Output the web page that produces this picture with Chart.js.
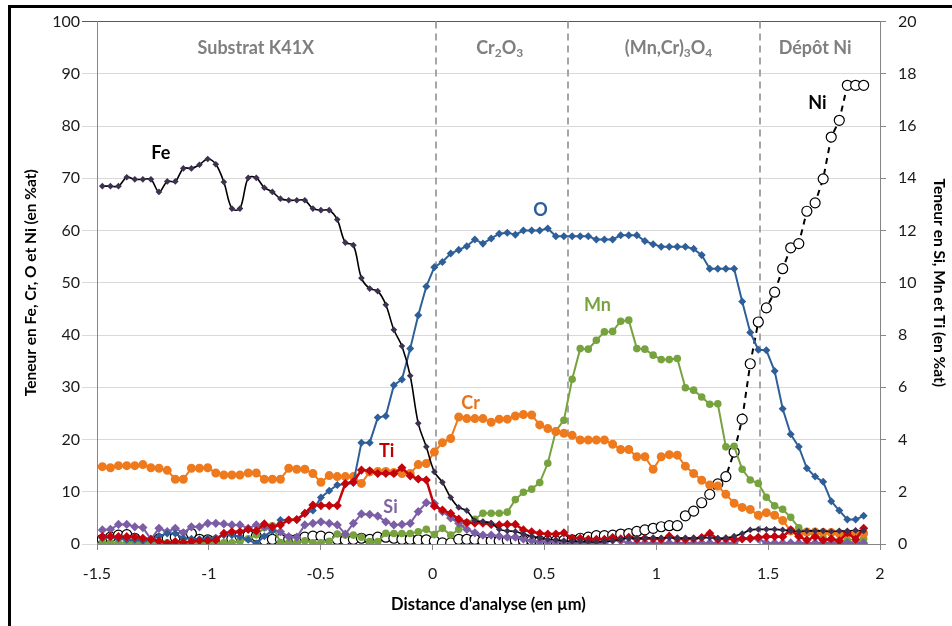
<!DOCTYPE html>
<html>
<head>
<meta charset="utf-8">
<script src="https://cdn.jsdelivr.net/npm/chart.js@4.4.0/dist/chart.umd.min.js"></script>
<style>
html, body { margin: 0; padding: 0; background: #fff; }
#wrap { width: 952px; height: 626px; }
</style>
</head>
<body>
<div id="wrap"><canvas id="mycanvas" width="952" height="626"></canvas></div>
<script>
// profile abscissa (µm)
var distance = [-1.476, -1.440, -1.404, -1.367, -1.331, -1.295, -1.259, -1.223, -1.186, -1.150,
    -1.114, -1.078, -1.042, -1.005, -0.969, -0.933, -0.897, -0.861, -0.824, -0.788,
    -0.752, -0.716, -0.680, -0.643, -0.607, -0.571, -0.535, -0.499, -0.462, -0.426,
    -0.390, -0.354, -0.318, -0.281, -0.245, -0.209, -0.173, -0.137, -0.100, -0.064,
    -0.028, 0.008, 0.044, 0.081, 0.117, 0.153, 0.189, 0.225, 0.262, 0.298,
    0.334, 0.370, 0.406, 0.443, 0.479, 0.515, 0.551, 0.587, 0.624, 0.660,
    0.696, 0.732, 0.768, 0.805, 0.841, 0.877, 0.913, 0.949, 0.986, 1.022,
    1.058, 1.094, 1.130, 1.167, 1.203, 1.239, 1.275, 1.311, 1.348, 1.384,
    1.420, 1.456, 1.492, 1.529, 1.565, 1.601, 1.637, 1.673, 1.710, 1.746,
    1.782, 1.818, 1.854, 1.891, 1.927];

// left axis (%at)
var fe = [68.5, 68.5, 68.5, 70.2, 69.8, 69.8, 69.8, 67.4, 69.4, 69.4,
    71.9, 71.9, 72.6, 73.7, 72.7, 69.3, 64.2, 64.2, 70.1, 70.1,
    68.2, 67.4, 66.1, 65.8, 65.8, 65.8, 64.2, 63.9, 63.9, 62.1,
    57.7, 57.2, 50.9, 48.9, 48.4, 45.8, 41.0, 37.9, 32.2, 23.1,
    18.6, 13.8, 11.8, 8.9, 7.0, 6.4, 4.5, 4.3, 4.0, 2.8,
    2.5, 2.4, 1.9, 1.5, 1.1, 0.9, 0.8, 0.6, 0.5, 0.5,
    0.4, 0.4, 0.5, 0.6, 0.9, 1.1, 1.1, 1.2, 1.2, 1.2,
    1.2, 1.1, 1.2, 1.1, 1.2, 1.2, 1.1, 1.2, 1.5, 2.0,
    2.7, 2.8, 2.8, 2.8, 2.7, 2.5, 2.4, 2.5, 2.5, 2.5,
    2.4, 2.5, 2.5, 2.6, 2.5];
var oxy = [1.1, 1.3, 1.0, 0.8, 0.8, 0.6, 0.7, 1.5, 2.0, 2.0,
    1.1, 1.0, 0.9, 1.1, 1.2, 1.7, 1.7, 1.4, 0.8, 0.1,
    1.5, 2.5, 4.6, 4.6, 4.6, 5.9, 6.4, 8.9, 10.2, 11.3,
    11.5, 11.7, 19.4, 19.4, 24.2, 24.5, 30.4, 31.5, 37.4, 43.8,
    49.3, 53.0, 54.0, 55.6, 56.3, 57.0, 58.3, 57.5, 58.5, 59.4,
    59.6, 59.2, 60.0, 60.0, 60.0, 60.4, 58.9, 58.9, 58.9, 58.9,
    58.9, 58.3, 58.3, 58.3, 59.1, 59.1, 59.1, 58.0, 57.4, 56.9,
    56.9, 56.9, 56.9, 56.5, 55.3, 52.7, 52.7, 52.7, 52.7, 46.4,
    40.5, 37.2, 37.1, 33.1, 25.9, 21.0, 18.6, 14.5, 12.9, 11.9,
    8.2, 6.4, 4.7, 4.7, 5.4];
var cr = [14.8, 14.6, 15.0, 15.0, 15.0, 15.2, 14.6, 14.5, 14.1, 12.4,
    12.4, 14.5, 14.5, 14.6, 13.6, 13.2, 13.2, 13.2, 13.6, 13.6,
    12.4, 12.4, 12.4, 14.5, 14.3, 14.3, 13.5, 11.8, 13.1, 12.9,
    12.9, 12.9, 11.6, 13.8, 13.9, 13.9, 13.7, 13.5, 13.5, 15.2,
    15.4, 17.6, 19.4, 20.2, 24.3, 24.0, 24.0, 24.0, 23.3, 23.9,
    23.9, 24.5, 24.8, 24.7, 22.8, 22.1, 21.5, 21.2, 20.8, 19.9,
    19.9, 19.9, 19.9, 19.1, 18.1, 18.1, 16.7, 16.7, 14.3, 16.7,
    17.1, 17.0, 14.9, 13.5, 12.2, 11.3, 11.1, 9.5, 7.8, 7.0,
    6.6, 5.5, 6.0, 5.5, 4.5, 2.5, 2.0, 2.3, 2.3, 2.2,
    2.2, 2.0, 2.0, 1.7, 2.0];
var ni = [0.9, 1.3, 1.7, 1.8, 1.1, 0.3, 0.2, 1.0, 1.1, 1.3,
    1.7, 2.0, 0.9, 0.8, 0.6, 0.9, 1.0, 1.5, 1.7, 1.5,
    0.8, 0.9, 0.9, 0.9, 0.9, 1.3, 1.5, 1.5, 1.3, 0.9,
    0.8, 0.9, 1.1, 0.9, 1.3, 1.3, 1.1, 0.9, 0.9, 0.8,
    0.8, 0.6, 0.2, 0.2, 0.9, 0.9, 0.9, 0.6, 0.6, 0.6,
    0.7, 0.7, 0.7, 0.7, 0.6, 0.6, 0.6, 0.7, 0.8, 1.1,
    1.3, 1.6, 1.6, 1.7, 1.9, 2.0, 2.4, 2.7, 3.0, 3.3,
    3.5, 3.5, 5.4, 6.3, 7.9, 9.5, 11.5, 12.9, 17.6, 23.9,
    34.5, 42.5, 45.2, 48.2, 52.7, 56.7, 57.5, 63.7, 65.3, 69.9,
    77.9, 81.1, 87.8, 87.8, 87.8];

// right axis (%at)
var mn = [0.05, 0.05, 0.05, 0.05, 0.05, 0.05, 0.05, 0.05, 0.05, 0.05,
    0.05, 0.05, 0.05, 0.05, 0.05, 0.05, 0.05, 0.1, 0.2, 0.35,
    0.62, 0.7, 0.06, 0.05, 0.05, 0.12, 0.05, 0.05, 0.1, 0.38,
    0.34, 0.34, 0.26, 0.09, 0.09, 0.41, 0.4, 0.4, 0.4, 0.47,
    0.56, 0.36, 0.6, 0.34, 0.56, 0.82, 0.95, 1.18, 1.18, 1.18,
    1.22, 1.7, 1.98, 2.1, 2.35, 3.09, 4.33, 4.74, 6.31, 7.48,
    7.46, 7.8, 8.12, 8.14, 8.53, 8.57, 7.48, 7.46, 7.23, 7.06,
    7.06, 7.1, 5.98, 5.89, 5.63, 5.35, 5.37, 3.72, 3.74, 2.86,
    2.45, 2.32, 1.79, 1.46, 1.33, 1.02, 0.62, 0.43, 0.34, 0.22,
    0.14, 0.1, 0.14, 0.04, 0.2];
var ti = [0.28, 0.29, 0.28, 0.28, 0.27, 0.22, 0.18, 0.11, 0.03, 0.09,
    0.06, 0.09, 0.13, 0.13, 0.15, 0.41, 0.47, 0.47, 0.56, 0.5,
    0.77, 0.66, 0.73, 0.92, 0.94, 1.17, 1.49, 1.47, 1.47, 1.47,
    2.31, 2.38, 2.83, 2.8, 2.7, 2.7, 2.7, 2.92, 2.61, 2.49,
    2.45, 1.45, 1.3, 1.17, 0.95, 0.82, 0.8, 0.8, 0.75, 0.73,
    0.75, 0.75, 0.54, 0.47, 0.41, 0.38, 0.38, 0.43, 0.22, 0.22,
    0.18, 0.18, 0.18, 0.25, 0.2, 0.26, 0.18, 0.22, 0.2, 0.18,
    0.3, 0.2, 0.18, 0.2, 0.25, 0.41, 0.18, 0.2, 0.18, 0.2,
    0.22, 0.26, 0.28, 0.29, 0.28, 0.54, 0.29, 0.15, 0.28, 0.14,
    0.2, 0.12, 0.43, 0.18, 0.6];
var si = [0.54, 0.56, 0.75, 0.75, 0.66, 0.63, 0.18, 0.6, 0.47, 0.6,
    0.43, 0.66, 0.66, 0.79, 0.79, 0.77, 0.73, 0.73, 0.6, 0.73,
    0.66, 0.54, 0.47, 0.28, 0.26, 0.73, 0.79, 0.85, 0.79, 0.73,
    0.38, 0.79, 1.15, 1.13, 1.07, 0.85, 0.73, 0.75, 0.79, 1.24,
    1.58, 1.55, 1.24, 1.0, 0.79, 0.56, 0.43, 0.34, 0.34, 0.3,
    0.26, 0.26, 0.19, 0.13, 0.09, 0.09, 0.09, 0.08, 0.05, 0.04,
    0.04, 0.04, 0.04, 0.15, 0.12, 0.04, 0.04, 0.04, 0.04, 0.04,
    0.04, 0.04, 0.04, 0.04, 0.04, 0.04, 0.04, 0.04, 0.04, 0.2,
    0.2, 0.2, 0.04, 0.04, 0.04, 0.04, 0.04, 0.04, 0.04, 0.04,
    0.04, 0.04, 0.04, 0.04, 0.04];

var xTicks = [-1.5, -1, -0.5, 0, 0.5, 1, 1.5, 2];

// layer limits and names
var layerBounds = [0.015, 0.605, 1.465];
var layerNames = [
    [['Substrat K41X', 0]],
    [['Cr', 0], ['2', 1], ['O', 0], ['3', 1]],
    [['(Mn,Cr)', 0], ['3', 1], ['O', 0], ['4', 1]],
    [['Dépôt Ni', 0]]
];
var layerCenters = [-0.79, 0.30, 1.055, 1.71];

var FONT = 'Lato, "Open Sans", sans-serif';

function pts(ys) {
    return ys.map(function (v, i) {
        return {x: distance[i], y: v};
    });
}

function drawRich(ctx, parts, cx, cy) {
    var w = 0;
    parts.forEach(function (p) {
        ctx.font = 'bold ' + (p[1] ? 12 : 18) + 'px ' + FONT;
        w += ctx.measureText(p[0]).width;
    });
    var x = cx - w / 2;
    parts.forEach(function (p) {
        ctx.font = 'bold ' + (p[1] ? 12 : 18) + 'px ' + FONT;
        ctx.fillText(p[0], x, cy + (p[1] ? 5 : 0));
        x += ctx.measureText(p[0]).width;
    });
}

var overlay = {
    id: 'overlay',
    beforeDatasetsDraw: function (chart) {
        var ctx = chart.ctx, sx = chart.scales.x, a = chart.chartArea;
        ctx.save();
        ctx.strokeStyle = '#a6a6a6';
        ctx.lineWidth = 2;
        ctx.setLineDash([7, 5]);
        layerBounds.forEach(function (b) {
            var px = Math.round(sx.getPixelForValue(b));
            ctx.beginPath();
            ctx.moveTo(px, a.top);
            ctx.lineTo(px, a.bottom);
            ctx.stroke();
        });
        ctx.restore();
    },
    afterDraw: function (chart) {
        var ctx = chart.ctx, sx = chart.scales.x, sy = chart.scales.y;
        ctx.save();
        ctx.textBaseline = 'middle';
        ctx.textAlign = 'left';
        ctx.fillStyle = '#7f7f7f';
        layerNames.forEach(function (parts, i) {
            drawRich(ctx, parts, sx.getPixelForValue(layerCenters[i]), sy.getPixelForValue(95));
        });
        // element names next to the curves
        ctx.textAlign = 'center';
        ctx.font = 'bold 18px ' + FONT;
        chart.data.datasets.forEach(function (ds) {
            ctx.fillStyle = ds.tagColor;
            ctx.fillText(ds.label, sx.getPixelForValue(ds.tagX), sy.getPixelForValue(ds.tagY));
        });
        // outer frame
        ctx.fillStyle = '#000';
        ctx.fillRect(8, 5, 3, 621);
        ctx.fillRect(8, 5, 944, 3);
        ctx.restore();
    }
};

var ctx = document.getElementById('mycanvas').getContext('2d');

var myChart = new Chart(ctx, {
    type: 'line',
    data: {
        datasets: [
            {label: 'Fe', data: pts(fe), yAxisID: 'y', borderColor: '#000', borderWidth: 1.6, tension: 0.35,
                pointStyle: 'rectRot', pointRadius: 2.2, pointBackgroundColor: '#3f3151', pointBorderColor: '#3f3151',
                tagColor: '#000', tagX: -1.215, tagY: 74.8},
            {label: 'Ti', data: pts(ti), yAxisID: 'y1', borderColor: '#c3040c', borderWidth: 2.5,
                pointStyle: 'rectRot', pointRadius: 2.8, pointBackgroundColor: '#c3040c', pointBorderColor: '#c3040c',
                tagColor: '#c00000', tagX: -0.205, tagY: 17.8},
            {label: 'O', data: pts(oxy), yAxisID: 'y', borderColor: '#2f5f98', borderWidth: 2,
                pointStyle: 'rectRot', pointRadius: 2.6, pointBackgroundColor: '#2f5f98', pointBorderColor: '#2f5f98',
                tagColor: '#2f5f98', tagX: 0.482, tagY: 63.9},
            {label: 'Cr', data: pts(cr), yAxisID: 'y', borderColor: '#ee7a1d', borderWidth: 2,
                pointStyle: 'circle', pointRadius: 3.5, pointBackgroundColor: '#ee7a1d', pointBorderColor: '#ee7a1d',
                tagColor: '#e9731b', tagX: 0.17, tagY: 27},
            {label: 'Si', data: pts(si), yAxisID: 'y1', borderColor: '#7c5ea6', borderWidth: 2,
                pointStyle: 'rectRot', pointRadius: 3.2, pointBackgroundColor: '#7c5ea6', pointBorderColor: '#7c5ea6',
                tagColor: '#8064a2', tagX: -0.188, tagY: 7.1},
            {label: 'Mn', data: pts(mn), yAxisID: 'y1', borderColor: '#77a33f', borderWidth: 2,
                pointStyle: 'circle', pointRadius: 2.8, pointBackgroundColor: '#77a33f', pointBorderColor: '#77a33f',
                tagColor: '#77a33f', tagX: 0.737, tagY: 45.7},
            {label: 'Ni', data: pts(ni), yAxisID: 'y', borderColor: '#000', borderWidth: 2, borderDash: [6, 5],
                pointStyle: 'circle', pointRadius: 5, pointBackgroundColor: '#fff', pointBorderColor: '#000', pointBorderWidth: 1.2,
                tagColor: '#000', tagX: 1.72, tagY: 84.3}
        ]
    },
    options: {
        responsive: false,
        animation: false,
        layout: {padding: {top: 21, left: 0, right: 0, bottom: 0}},
        plugins: {
            legend: {display: false},
            tooltip: {enabled: false}
        },
        scales: {
            x: {
                type: 'linear',
                min: -1.5,
                max: 2,
                afterFit: function (s) { s.height = 82; },
                afterBuildTicks: function (s) { s.ticks = xTicks.map(function (v) { return {value: v}; }); },
                ticks: {
                    padding: 14,
                    color: '#1a1a1a',
                    font: {family: FONT, size: 16},
                    maxRotation: 0,
                    callback: function (v) { return String(v); }
                },
                grid: {drawOnChartArea: false, drawTicks: true, tickLength: 6, tickColor: '#868686'},
                border: {color: '#868686'},
                title: {
                    display: true,
                    text: "Distance d'analyse (en µm)",
                    color: '#000',
                    font: {family: FONT, size: 16.5, weight: 'bold'},
                    padding: {top: 0, bottom: 11}
                }
            },
            y: {
                position: 'left',
                min: 0,
                max: 100,
                afterFit: function (s) { s.width = 97; },
                ticks: {stepSize: 10, padding: 2, color: '#1a1a1a', font: {family: FONT, size: 16}},
                grid: {
                    color: function (c) { return c.tick && c.tick.value === 100 ? '#595959' : '#d9d9d9'; },
                    tickColor: function (c) { return c.tick && c.tick.value === 100 ? '#595959' : '#d9d9d9'; },
                    tickLength: 15
                },
                border: {color: '#868686'},
                title: {
                    display: true,
                    text: 'Teneur en Fe, Cr, O et Ni (en %at)',
                    color: '#000',
                    font: {family: FONT, size: 15.5, weight: 'bold'},
                    padding: {top: 22, bottom: 0}
                }
            },
            y1: {
                position: 'right',
                min: 0,
                max: 20,
                afterFit: function (s) { s.width = 72; },
                ticks: {stepSize: 2, padding: 12, color: '#1a1a1a', font: {family: FONT, size: 16}},
                grid: {drawOnChartArea: false, tickLength: 6, tickColor: '#868686'},
                border: {color: '#868686'},
                title: {
                    display: true,
                    text: 'Teneur en Si, Mn et Ti (en %at)',
                    color: '#000',
                    font: {family: FONT, size: 15.5, weight: 'bold'},
                    padding: {top: 4, bottom: 0}
                }
            }
        }
    },
    plugins: [overlay]
});
</script>
</body>
</html>
